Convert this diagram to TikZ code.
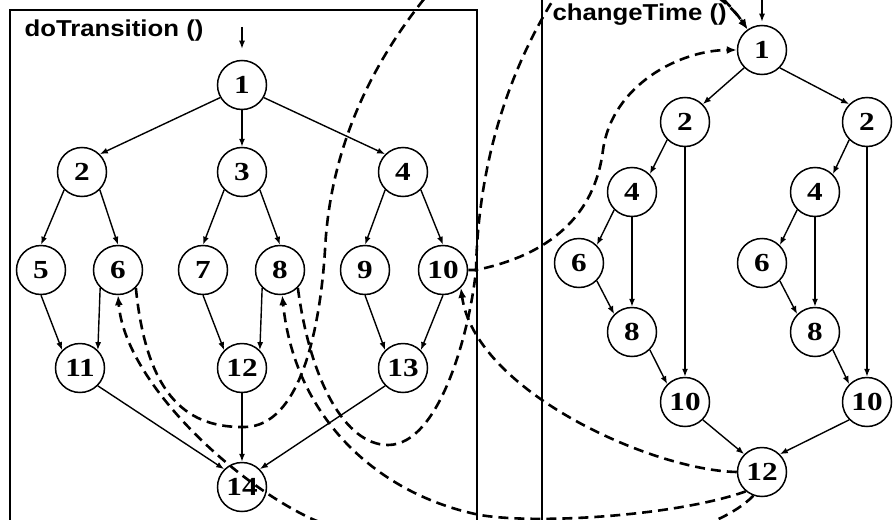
\documentclass[tikz,border=0pt]{standalone}
\usepackage{fontspec}
\setmainfont{Liberation Serif}[FakeStretch=1.2]
\setsansfont{Liberation Sans}[FakeStretch=1.12]
\usetikzlibrary{arrows.meta}

\begin{document}
\begin{tikzpicture}[x=1pt,y=-1pt,
	blk/.style={circle,draw,line width=1.5pt,minimum size=49pt,inner sep=0pt,font=\fontsize{26}{26}\selectfont\bfseries},
	flow/.style={line width=1.4pt,-{Latex[length=8pt,width=6pt]}},
	callarc/.style={line width=2.6pt,dash pattern=on 10pt off 6pt,-{Latex[length=10pt,width=8pt]}},
	boxline/.style={line width=1.2pt},
	ttl/.style={anchor=base west,font=\sffamily\bfseries\fontsize{23}{23}\selectfont}]
			%%%%% START %%%%%
			\useasboundingbox (0,0) rectangle (896,519);
			\clip (0,0) rectangle (896,519);
			
			\draw[boxline] (10,10) rectangle (477,540);
			\draw[boxline] (542,-20) rectangle (920,540);
			\node[ttl] (dttitle) at (21,37) {doTransition ()};
			\node[ttl] (cttitle) at (549,21) {changeTime ()};
			
			%%%%% doTransition %%%%%
			\node[blk] (t1) at (242,85) {1};
			\node[blk] (t2) at (82,172) {2};
			\node[blk] (t3) at (242,172) {3};
			\node[blk] (t4) at (403,172) {4};
			\node[blk] (t5) at (41,270) {5};
			\node[blk] (t6) at (118,270) {6};
			\node[blk] (t7) at (203,270) {7};
			\node[blk] (t8) at (280,270) {8};
			\node[blk] (t9) at (365,270) {9};
			\node[blk] (t10) at (443,270) {10};
			\node[blk] (t11) at (80,368) {11};
			\node[blk] (t12) at (242,368) {12};
			\node[blk] (t13) at (403,368) {13};
			\node[blk] (t14) at (242,487) {14};
			\coordinate (tin) at (242,27);
			\coordinate (tx) at (476,270);
			
			\draw[flow, shorten >=11pt] (tin) -- (t1);
			\draw[flow] (t1.210) -- (t2.north east);
			\draw[flow] (t1.south) -- (t3.north);
			\draw[flow] (t1.-30) -- (t4.north west);
			\draw[flow] (t2.south west) -- (t5.north);
			\draw[flow] (t2.south east) -- (t6.north);
			\draw[flow] (t3.south west) -- (t7.north);
			\draw[flow] (t3.south east) -- (t8.north);
			\draw[flow] (t4.south west) -- (t9.north);
			\draw[flow] (t4.south east) -- (t10.north);
			\draw[flow] (t5.south) -- (t11.north west);
			\draw[flow] (t6.south west) -- (t11.north east);
			\draw[flow] (t7.south) -- (t12.north west);
			\draw[flow] (t8.south west) -- (t12.north east);
			\draw[flow] (t9.south) -- (t13.north west);
			\draw[flow] (t10.south) -- (t13.north east);
			\draw[flow] (t11.south east) -- (t14.north west);
			\draw[flow] (t12.south) -- (t14.north);
			\draw[flow] (t13.south west) -- (t14.north east);
			
			%%%%% changeTime %%%%%
			\node[blk] (c1) at (762,50) {1};
			\node[blk] (c2l) at (685,122) {2};
			\node[blk] (c2r) at (867,122) {2};
			\node[blk] (c4l) at (632,192) {4};
			\node[blk] (c4r) at (815,192) {4};
			\node[blk] (c6l) at (579,263) {6};
			\node[blk] (c6r) at (762,263) {6};
			\node[blk] (c8l) at (632,332) {8};
			\node[blk] (c8r) at (815,332) {8};
			\node[blk] (c10l) at (685,402) {10};
			\node[blk] (c10r) at (867,402) {10};
			\node[blk] (c12) at (762,472) {12};
			\coordinate (cin) at (762,-5);
			
			\draw[flow, shorten >=3pt] (cin) -- (c1);
			\draw[flow] (c1.south west) -- (c2l.north east);
			\draw[flow] (c1.south east) -- (c2r.north west);
			\draw[flow] (c2l.south west) -- (c4l.north east);
			\draw[flow] (c2l.south) -- (c10l.north);
			\draw[flow] (c4l.south west) -- (c6l.north east);
			\draw[flow] (c4l.south) -- (c8l.north);
			\draw[flow] (c6l.south east) -- (c8l.north west);
			\draw[flow] (c8l.south east) -- (c10l.north west);
			\draw[flow] (c10l.south east) -- (c12.north west);
			\draw[flow] (c2r.south west) -- (c4r.north east);
			\draw[flow] (c2r.south) -- (c10r.north);
			\draw[flow] (c4r.south west) -- (c6r.north east);
			\draw[flow] (c4r.south) -- (c8r.north);
			\draw[flow] (c6r.south east) -- (c8r.north west);
			\draw[flow] (c8r.south east) -- (c10r.north west);
			\draw[flow] (c10r.south west) -- (c12.north east);
			
			%%%%% calls and returns %%%%%
			\draw[callarc] (t6.south east) .. controls (147,400) and (190,428) .. (245,427) .. controls (300,426) and (320,330) .. (325,250) .. controls (330,150) and (370,60) .. (440,-20) .. controls (550,-130) and (700,-40) .. (c1.125);
			\draw[callarc] (t8.south east) .. controls (310,380) and (345,445) .. (388,445) .. controls (440,445) and (470,330) .. (tx) .. controls (478,170) and (505,80) .. (550,5) .. controls (580,-45) and (700,-40) .. (c1.125);
			\draw[callarc] (t10.east) -- (tx) .. controls (550,255) and (595,215) .. (603,150) .. controls (612,85) and (680,50) .. (c1.west);
			\draw[callarc] (c12.west) .. controls (650,470) and (475,390) .. (t10.south east);
			\draw[callarc] (c12.230) .. controls (680,515) and (540,525) .. (480,515) .. controls (380,495) and (295,420) .. (t8.-85);
			\draw[callarc] (c12.250) .. controls (680,570) and (400,560) .. (310,518) .. controls (230,480) and (125,380) .. (t6.south);
			%%%%% END %%%%%
\end{tikzpicture}
\end{document}
